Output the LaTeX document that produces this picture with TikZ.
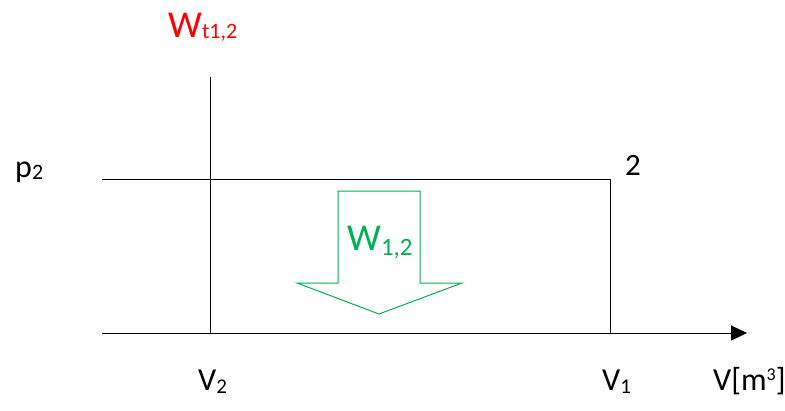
\documentclass[tikz,border=0pt]{standalone}
\usepackage{fontspec}
\setmainfont{Carlito}
\usetikzlibrary{arrows.meta}
\definecolor{workred}{RGB}{255,0,0}
\definecolor{workgreen}{RGB}{0,176,80}
\newcommand{\lowidx}[3]{\raisebox{-#2}{\fontsize{#1}{#1}\selectfont #3}}
\newcommand{\bigfont}{\fontsize{32}{32}\selectfont}

\begin{document}
\begin{tikzpicture}[x=1pt, y=-1pt, every node/.style={inner sep=0pt, anchor=base west, font=\bigfont}]
  \useasboundingbox (0,0) rectangle (785,410);
  \coordinate (O) at (102,333); \coordinate (E) at (747,333);
  \coordinate (T) at (210,77); \coordinate (A) at (210,333);
  \coordinate (P) at (102,179); \coordinate (S) at (610,179); \coordinate (B) at (610,333);
  \draw[line width=1pt, -{Triangle[length=16pt,width=15pt]}] (O)--(E);
  \draw[line width=0.9pt] (T)--(A);
  \draw[line width=0.9pt] (P)--(S)--(B);
  % work arrow
  \draw[workgreen, line width=1pt] (338,283)--(338,191)--(420,191)--(420,283)
    --(462,283)--(379,314)--(297,283)--cycle;
  \node[text=workred, font=\fontsize{38}{38}\selectfont] (wt) at (168,37) {W\lowidx{22}{1pt}{t1,2}};
  \node[text=workgreen, font=\fontsize{38}{38}\selectfont] (w12) at (347,250) {W\lowidx{25}{5pt}{1,2}};
  \node (p2) at (15,177) {p\lowidx{22}{2pt}{2}};
  \node[font=\fontsize{31}{31}\selectfont] (s2) at (625,175) {2};
  \node (v2) at (198,390) {V\lowidx{21}{3pt}{2}};
  \node (v1) at (602,390) {V\lowidx{21}{3pt}{1}};
  \node (vax) at (713,390) {V[m\raisebox{10pt}{\fontsize{18}{18}\selectfont 3}]};
\end{tikzpicture}
\end{document}
